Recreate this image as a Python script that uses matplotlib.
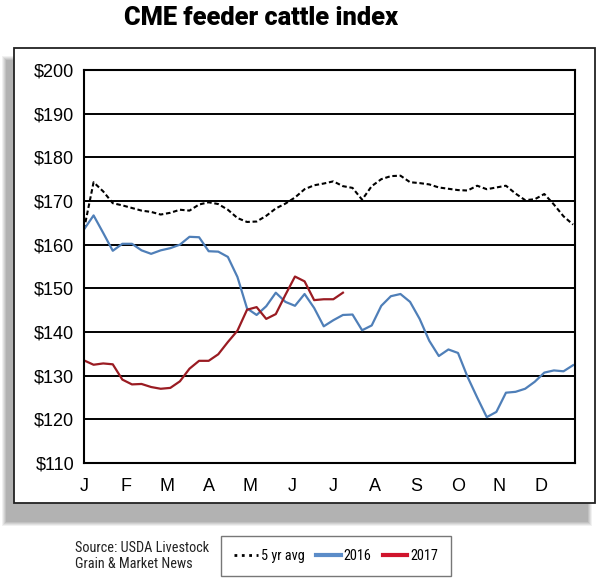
import matplotlib.pyplot as plt
import matplotlib.patches as mpatches
from matplotlib.lines import Line2D
from matplotlib import font_manager
import numpy as np

# weekly values (52 weeks)
avg5 = [163.5, 174.3, 172.2, 169.5, 169.0, 168.4, 167.8, 167.5, 166.9, 167.3,
        168.0, 167.8, 169.2, 169.7, 169.3, 168.0, 166.1, 165.2, 165.3, 166.6,
        168.3, 169.4, 170.8, 172.7, 173.6, 174.0, 174.5, 173.4, 173.0, 170.3,
        173.4, 175.0, 175.7, 175.8, 174.3, 174.1, 173.8, 173.1, 172.8, 172.5,
        172.4, 173.5, 172.7, 173.1, 173.5, 171.7, 170.2, 170.4, 171.6, 169.2,
        166.5, 164.6]
y2016 = [163.5, 166.7, 162.7, 158.6, 160.2, 160.2, 158.7, 157.9, 158.7, 159.2,
         160.0, 161.8, 161.7, 158.5, 158.4, 157.2, 152.6, 145.4, 143.9, 145.9,
         149.0, 146.9, 146.0, 148.7, 145.5, 141.3, 142.7, 143.9, 144.0, 140.4,
         141.5, 146.0, 148.2, 148.7, 146.9, 143.0, 138.0, 134.5, 136.0, 135.2,
         129.7, 125.0, 120.5, 121.7, 126.1, 126.3, 127.0, 128.6, 130.7, 131.2,
         131.0, 132.4]
y2017 = [133.5, 132.5, 132.8, 132.6, 129.1, 128.0, 128.1, 127.4, 127.0, 127.2,
         128.7, 131.6, 133.4, 133.4, 134.9, 137.7, 140.3, 145.1, 145.7, 143.0,
         144.1, 148.5, 152.7, 151.6, 147.3, 147.5, 147.5, 149.0]
months = ["J", "F", "M", "A", "M", "J", "J", "A", "S", "O", "N", "D"]
y_ticks = [110, 120, 130, 140, 150, 160, 170, 180, 190, 200]

c2016 = "#4f7fb8"
c2017 = "#9a1b22"

# condensed font for the footer if one is around, else shrink the regular one
installed = {f.name for f in font_manager.fontManager.ttflist}
narrow_names = [n for n in ["Liberation Sans Narrow", "DejaVu Sans Condensed",
                            "Roboto Condensed", "Arial Narrow"] if n in installed]
if narrow_names:
    foot_family = [narrow_names[0], "DejaVu Sans"]
    foot_size = 10.3
else:
    foot_family = ["Liberation Sans", "DejaVu Sans"]
    foot_size = 8.8

fig = plt.figure(figsize=(6.1, 5.85), dpi=100)
fig.patch.set_facecolor("white")

# soft drop shadow behind the panel (a few stacked translucent boxes)
for i, a in enumerate([0.12, 0.15, 0.18, 0.22, 0.28]):
    g = 4 - i
    fig.patches.append(mpatches.Rectangle(
        ((6 - g) / 610, 1 - (522 + g) / 585), (582 + 2 * g) / 610, (462 + 2 * g) / 585,
        transform=fig.transFigure, facecolor="#8c8c8c", edgecolor="none",
        alpha=a, zorder=-3))
# white panel with black border
fig.patches.append(mpatches.Rectangle(
    (14 / 610, 1 - 503 / 585), 581 / 610, 455 / 585,
    transform=fig.transFigure, facecolor="white", edgecolor="#222222",
    linewidth=1.3, zorder=-2))

ax = fig.add_axes([84 / 610, 1 - 463 / 585, 491 / 610, 393 / 585])
ax.set_zorder(1)

weeks = np.arange(len(avg5))
ax.plot(weeks, avg5, color="black", linestyle=(0, (2.2, 1.3)), linewidth=1.5)
ax.plot(weeks, y2016, color=c2016, linewidth=1.6)
ax.plot(np.arange(len(y2017)), y2017, color=c2017, linewidth=1.6)

ax.set_xlim(0, 51.2)
ax.set_ylim(110, 200)
ax.set_yticks(y_ticks)
ax.set_yticklabels(["$%d" % v for v in y_ticks], fontsize=13,
                   family=["Liberation Sans", "DejaVu Sans"])
ax.set_xticks(np.arange(12) * 52 / 12)
ax.set_xticklabels(months, fontsize=13, family=["Liberation Sans", "DejaVu Sans"])
ax.tick_params(axis="both", length=0)
ax.tick_params(axis="x", pad=11)
ax.tick_params(axis="y", pad=7)
ax.grid(axis="y", color="black", linewidth=1.4)
ax.set_axisbelow(True)
for s in ax.spines.values():
    s.set_linewidth(1.5)
    s.set_color("black")

fig.text(261 / 610, 1 - 18 / 585, "CME feeder cattle index", ha="center", va="center",
         fontsize=18.3, fontweight=900, family=["Roboto", "DejaVu Sans"])

fig.text(75 / 610, 1 - 556 / 585, "Source: USDA Livestock\nGrain & Market News",
         ha="left", va="center", fontsize=foot_size, family=foot_family,
         linespacing=1.15, color="#222222")

handles = [Line2D([], [], color="black", linestyle=":", linewidth=2),
           Line2D([], [], color="#5b8cc8", linewidth=3),
           Line2D([], [], color="#d0142c", linewidth=3)]
leg = fig.legend(handles, ["5 yr avg", "2016", "2017"], loc="center",
                 bbox_to_anchor=(336 / 610, 1 - 556 / 585), ncol=3,
                 frameon=True, fancybox=False, handlelength=1.7,
                 handletextpad=0.2, columnspacing=0.8, borderpad=0.9,
                 borderaxespad=0, prop={"family": foot_family, "size": foot_size})
leg.get_frame().set_edgecolor("#555555")
leg.get_frame().set_linewidth(1.0)

fig.savefig("out.png", dpi=100)
